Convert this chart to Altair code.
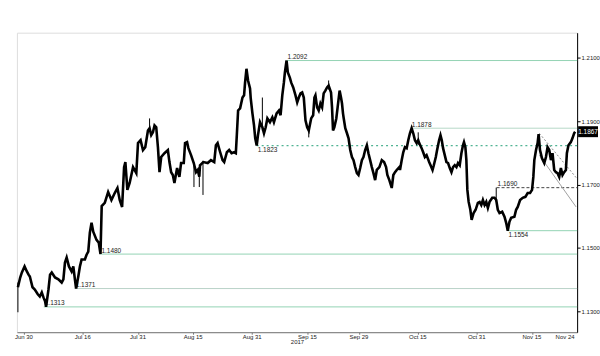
import altair as alt
import pandas as pd

BASE = pd.Timestamp("2017-06-30")

def ms(d):
    return int((BASE + pd.to_timedelta(d, unit="D")).value // 10**6)

# ---- price path (days after 2017-06-30, close) ----
days = [-1.62, -1.0, -0.54, 0.19, 0.81, 1.27, 1.62, 2.35, 2.97, 3.78, 4.32, 4.86, 5.32, 5.76, 6.03,
        6.68, 7.11, 7.57, 8.46, 9.38, 10.27, 10.73, 11.16, 11.62, 12.24, 12.97, 13.43, 13.86, 14.19,
        14.78, 15.22, 15.68, 16.57, 17.03, 17.49, 17.92, 18.38, 18.84, 19.73, 20.35, 20.81, 21.14,
        21.97, 22.89, 23.78, 24.68, 25.41, 26.03, 26.68, 27.22, 27.57, 28.11, 28.73, 29.65, 30.54,
        31.0, 31.7, 32.35, 32.97, 33.7, 34.14, 34.59, 35.05, 35.49, 35.95, 36.41, 36.84, 37.3, 38.19,
        39.11, 39.54, 40.0, 40.46, 40.89, 41.62, 42.24, 42.7, 43.43, 43.78, 44.32, 44.68, 45.41,
        46.14, 46.76, 47.22, 47.65, 47.84, 48.73, 49.92, 50.81, 51.7, 52.16, 52.62, 53.32, 53.97,
        54.41, 55.14, 55.76, 56.41, 57.11, 57.57, 57.84, 58.19, 58.73, 59.38, 59.81, 60.08, 60.46,
        60.89, 61.43, 61.62, 62.08, 62.51, 62.84, 63.24, 63.59, 64.14, 64.78, 65.22, 65.68, 66.14,
        66.84, 67.49, 67.92, 68.65, 69.27, 69.73, 70.19, 70.62, 70.89, 71.35, 71.7, 72.24, 72.62,
        73.16, 73.78, 74.24, 74.68, 75.14, 75.59, 76.03, 76.49, 76.95, 77.38, 78.03, 78.57, 78.92,
        79.19, 79.65, 80.08, 80.54, 81.0, 81.43, 81.89, 82.35, 82.78, 83.43, 83.7, 83.97, 84.32,
        84.86, 85.22, 85.76, 86.14, 86.41, 86.68, 86.84, 87.3, 87.76, 88.19, 88.65, 89.11, 89.54,
        90.0, 90.46, 90.89, 91.35, 91.81, 92.24, 92.7, 93.16, 93.59, 94.05, 94.51, 94.95, 95.41,
        95.86, 96.57, 97.22, 97.84, 98.38, 98.73, 99.27, 99.92, 100.35, 100.81, 101.27, 101.97,
        102.16, 102.62, 103.05, 103.51, 103.97, 104.41, 104.86, 105.32, 105.76, 106.22, 106.68,
        107.11, 107.38, 108.03, 108.46, 108.92, 109.38, 110.08, 110.46, 111.0, 111.35, 111.89,
        112.24, 112.78, 113.16, 113.51, 113.86, 114.32, 114.78, 115.22, 115.68, 116.14, 116.57,
        117.03, 117.49, 117.92, 118.38, 118.84, 119.27, 119.54, 119.92, 120.19, 120.46, 120.81,
        121.27, 121.62, 122.16, 122.7, 123.32, 123.78, 124.24, 124.68, 125.14, 125.59, 126.03,
        126.49, 127.22, 127.84, 128.3, 128.73, 129.19, 129.92, 130.54, 131.0, 131.43, 131.89,
        132.35, 133.24, 133.7, 134.14, 134.78, 135.49, 136.22, 136.84, 137.49, 138.03, 138.38,
        138.65, 139.11, 139.54, 139.81, 140.19, 140.73, 141.35, 141.81, 142.24, 142.7, 143.16,
        143.59, 144.05, 144.51, 144.95, 145.41, 145.86, 146.3, 146.76, 147.22, 147.49, 147.92,
        148.57, 149.0, 149.46, 149.73]
close = [1.1375, 1.1406, 1.1422, 1.1441, 1.1425, 1.1415, 1.1409, 1.1375, 1.1368, 1.1353, 1.1346,
         1.1359, 1.1343, 1.1331, 1.1313, 1.1368, 1.1415, 1.1422, 1.1406, 1.1400, 1.1390, 1.1400,
         1.1453, 1.1469, 1.1441, 1.1425, 1.1441, 1.1400, 1.1371, 1.1409, 1.1441, 1.1463, 1.1463,
         1.1478, 1.1488, 1.1548, 1.1579, 1.1551, 1.1525, 1.1516, 1.1480, 1.1632, 1.1642, 1.1676,
         1.1651, 1.1673, 1.1689, 1.1651, 1.1629, 1.1755, 1.1771, 1.1683, 1.1705, 1.1755, 1.1736,
         1.1831, 1.1840, 1.1809, 1.1818, 1.1871, 1.1878, 1.1856, 1.1865, 1.1887, 1.1881, 1.1818,
         1.1739, 1.1787, 1.1799, 1.1809, 1.1771, 1.1739, 1.1730, 1.1705, 1.1752, 1.1724, 1.1768,
         1.1768, 1.1831, 1.1834, 1.1815, 1.1793, 1.1768, 1.1739, 1.1746, 1.1725, 1.1761, 1.1771,
         1.1768, 1.1777, 1.1771, 1.1824, 1.1831, 1.1802, 1.1777, 1.1771, 1.1802, 1.1809, 1.1799,
         1.1802, 1.1799, 1.1856, 1.1934, 1.1941, 1.1975, 1.1982, 1.2022, 1.2066, 1.2029, 1.2004,
         1.1972, 1.1925, 1.1887, 1.1846, 1.1823, 1.1856, 1.1897, 1.1881, 1.1862, 1.1881, 1.1909,
         1.1897, 1.1912, 1.1897, 1.1925, 1.1934, 1.1919, 1.1982, 1.2022, 1.2054, 1.2092, 1.2054,
         1.2038, 1.2022, 1.2007, 1.1982, 1.1960, 1.1975, 1.1988, 1.1991, 1.1975, 1.1903, 1.1881,
         1.1871, 1.1909, 1.1919, 1.1975, 1.1982, 1.1944, 1.1934, 1.1956, 1.1944, 1.1988, 1.1997,
         1.2007, 1.2013, 1.1991, 1.1944, 1.1871, 1.1881, 1.1909, 1.1944, 1.1997, 1.1975, 1.1956,
         1.1925, 1.1912, 1.1878, 1.1862, 1.1846, 1.1809, 1.1787, 1.1777, 1.1755, 1.1736, 1.1730,
         1.1752, 1.1777, 1.1787, 1.1809, 1.1824, 1.1799, 1.1777, 1.1755, 1.1736, 1.1714, 1.1746,
         1.1755, 1.1777, 1.1771, 1.1755, 1.1730, 1.1714, 1.1689, 1.1730, 1.1739, 1.1746, 1.1755,
         1.1746, 1.1777, 1.1802, 1.1818, 1.1815, 1.1840, 1.1862, 1.1878, 1.1862, 1.1840, 1.1831,
         1.1840, 1.1831, 1.1815, 1.1802, 1.1787, 1.1793, 1.1771, 1.1761, 1.1746, 1.1761, 1.1787,
         1.1809, 1.1840, 1.1856, 1.1840, 1.1815, 1.1793, 1.1771, 1.1768, 1.1752, 1.1739, 1.1755,
         1.1761, 1.1755, 1.1768, 1.1761, 1.1799, 1.1824, 1.1834, 1.1818, 1.1777, 1.1683, 1.1645,
         1.1620, 1.1588, 1.1610, 1.1620, 1.1642, 1.1645, 1.1635, 1.1651, 1.1635, 1.1645, 1.1626,
         1.1645, 1.1658, 1.1658, 1.1651, 1.1620, 1.1610, 1.1614, 1.1598, 1.1579, 1.1554, 1.1582,
         1.1595, 1.1598, 1.1620, 1.1629, 1.1651, 1.1658, 1.1661, 1.1673, 1.1673, 1.1683, 1.1724,
         1.1777, 1.1809, 1.1831, 1.1859, 1.1809, 1.1783, 1.1768, 1.1787, 1.1818, 1.1809, 1.1777,
         1.1799, 1.1746, 1.1739, 1.1736, 1.1724, 1.1752, 1.1730, 1.1739, 1.1746, 1.1799, 1.1824,
         1.1834, 1.1846, 1.1862, 1.1867]

# ---- visible wicks ----
wick_day = [-1.62, 34.14, 46.2, 47.65, 48.65, 64.78, 77.38, 82.78, 107.11, 128.3]
wick_low = [1.1296, 1.1870, 1.1692, 1.1692, 1.1667, 1.1870, 1.1849, 1.2000, 1.1825, 1.1645]
wick_high = [1.1390, 1.1909, 1.1770, 1.1745, 1.1775, 1.1975, 1.1880, 1.2029, 1.1865, 1.1690]

# ---- horizontal levels ----
level_value = [1.2092, 1.1878, 1.1823, 1.1690, 1.1554, 1.1480, 1.1371, 1.1313]
level_start = [71.35, 105.1, 63.24, 128.4, 131.35, 20.8, 13.8, 5.4]
level_style = ["solid", "solid", "dotted", "dashed", "solid", "solid", "solid", "solid"]
level_pos = ["above", "above", "below", "above", "below", "above", "above", "above"]
level_color = ["#93d3b3", "#b6d8c8", "#4fb393", "#444444", "#93d3b3", "#93d3b3", "#b8d2c8", "#93d3b3"]

# ---- trend lines (start day, start price, end day, end price) ----
trend_d1 = [140.0, 140.0]
trend_p1 = [1.1862, 1.1793]
trend_d2 = [150.0, 150.0]
trend_p2 = [1.1722, 1.1629]
trend_style = ["dotted", "solid"]

# ---- axes ----
major_days = [0, 16, 31, 46, 62, 77, 91, 107, 123, 138, 147]
major_labels = ["Jun 30", "Jul 16", "Jul 31", "Aug 15", "Aug 31", "Sep 15", "Sep 29",
                "Oct 15", "Oct 31", "Nov 15", "Nov 24"]
minor_days = [8, 23, 38, 54, 69, 84, 99, 115, 130]
y_ticks = [1.13, 1.14, 1.15, 1.16, 1.17, 1.18, 1.19, 1.20, 1.21]
X_START, X_END = -1.89, 150.27
Y_MIN, Y_MAX = 1.1233, 1.2180
last_price = 1.1867

W, H = 563, 301
FONT = "Liberation Sans"

xs = alt.Scale(type="utc", domain=[ms(X_START), ms(X_END)])
ys = alt.Scale(domain=[Y_MIN, Y_MAX], nice=False, zero=False)

x_axis = alt.Axis(
    values=[ms(d) for d in sorted(major_days + minor_days)], labels=False,
    title="2017", titleFontSize=6, titleFontWeight="normal", titleFont=FONT, titleColor="#222",
    titlePadding=4, tickSize=2, tickColor="#777", domainColor="#777", grid=False,
)
y_axis = alt.Axis(
    orient="right", values=y_ticks, format=".4f", labelFontSize=6, labelFont=FONT,
    labelColor="#222", labelPadding=1, tickSize=3, tickColor="#000", domainColor="#000",
    grid=False, title=None,
)

price_df = pd.DataFrame({"t": [ms(d) for d in days], "close": close})
wick_df = pd.DataFrame({"t": [ms(d) for d in wick_day], "lo": wick_low, "hi": wick_high})
lev_df = pd.DataFrame({
    "t": [ms(d) for d in level_start], "t2": ms(X_END), "v": level_value,
    "label": [f"{v:.4f}" for v in level_value], "kind": level_style,
    "pos": level_pos, "color": level_color,
})
tr_df = pd.DataFrame({
    "t": [ms(d) for d in trend_d1], "p": trend_p1,
    "t2": [ms(d) for d in trend_d2], "p2": trend_p2, "kind": trend_style,
})
tick_df = pd.DataFrame({"t": [ms(d) for d in major_days], "label": major_labels})

base_levels = alt.Chart(lev_df)
lev_layers = []
for i, (kind, dash, sw) in enumerate([("solid", None, 1), ("dotted", [2, 3], 1.3), ("dashed", [3, 2], 1)]):
    kw = {"strokeWidth": sw}
    if dash:
        kw["strokeDash"] = dash
    xenc = alt.X("t:T", scale=xs, axis=x_axis) if i == 0 else alt.X("t:T", scale=xs)
    yenc = alt.Y("v:Q", scale=ys, axis=y_axis) if i == 0 else alt.Y("v:Q", scale=ys)
    lev_layers.append(
        base_levels.transform_filter(alt.datum.kind == kind).mark_rule(**kw).encode(
            x=xenc, x2="t2:T", y=yenc,
            color=alt.Color("color:N", scale=None),
        )
    )

lab_above = base_levels.transform_filter(alt.datum.pos == "above").mark_text(
    align="left", baseline="bottom", dx=1, dy=-0.5, fontSize=6.5, font=FONT, color="#222"
).encode(x=alt.X("t:T", scale=xs), y=alt.Y("v:Q", scale=ys), text="label:N")
lab_below = base_levels.transform_filter(alt.datum.pos == "below").mark_text(
    align="left", baseline="top", dx=1, dy=1.5, fontSize=6.5, font=FONT, color="#222"
).encode(x=alt.X("t:T", scale=xs), y=alt.Y("v:Q", scale=ys), text="label:N")

trend_layers = []
for kind, dash, col in [("dotted", [2, 2], "#888888"), ("solid", None, "#a0a0a0")]:
    kw = {"strokeWidth": 1, "color": col}
    if dash:
        kw["strokeDash"] = dash
    trend_layers.append(
        alt.Chart(tr_df).transform_filter(alt.datum.kind == kind).mark_rule(**kw).encode(
            x=alt.X("t:T", scale=xs), x2="t2:T", y=alt.Y("p:Q", scale=ys), y2="p2:Q"
        )
    )

wicks = alt.Chart(wick_df).mark_rule(color="#000", strokeWidth=1).encode(
    x=alt.X("t:T", scale=xs), y=alt.Y("lo:Q", scale=ys), y2="hi:Q"
)
line = alt.Chart(price_df).mark_line(color="#000", strokeWidth=2.6, strokeJoin="miter").encode(
    x=alt.X("t:T", scale=xs), y=alt.Y("close:Q", scale=ys)
)

# x tick labels (dates) drawn as text under the axis
xlabels = alt.Chart(tick_df).mark_text(
    fontSize=6, font=FONT, color="#222", align="center", baseline="top"
).encode(x=alt.X("t:T", scale=xs), y=alt.value(H + 2), text="label:N")

last_df = pd.DataFrame({"p": [last_price], "label": [f"{last_price:.4f}"]})
box = alt.Chart(last_df).mark_point(
    shape="M-1,-0.55L1,-0.55L1,0.55L-1,0.55Z", size=400, filled=True, color="#000", opacity=1
).encode(x=alt.value(W + 11), y=alt.Y("p:Q", scale=ys))
box_txt = alt.Chart(last_df).mark_text(
    fontSize=6.5, font=FONT, color="#fff", align="center", baseline="middle"
).encode(x=alt.value(W + 11), y=alt.Y("p:Q", scale=ys), text="label:N")

chart = alt.layer(
    *lev_layers, *trend_layers, lab_above, lab_below, wicks, line, xlabels, box, box_txt
).properties(
    width=W, height=H,
    padding={"left": 12, "top": 32, "right": 0, "bottom": 0},
).configure_view(stroke=None).configure(background="#ffffff")

chart.save("out.html", embed_options={"renderer": "svg", "actions": False})
